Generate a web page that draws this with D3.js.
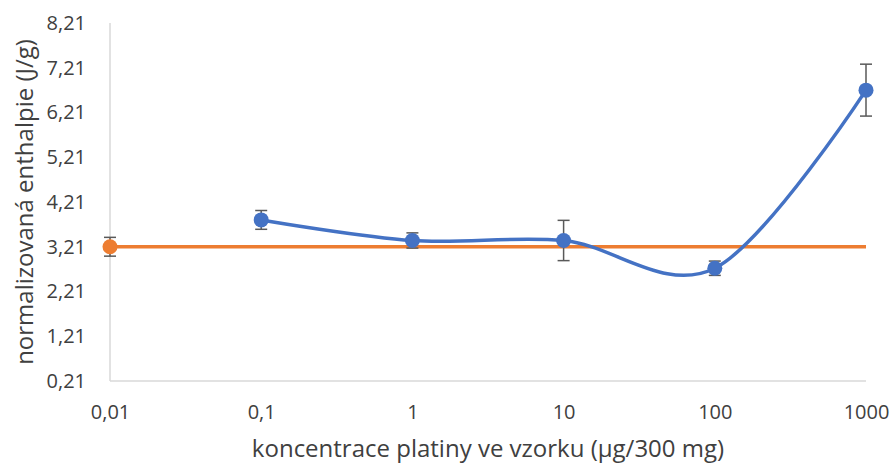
<!DOCTYPE html>
<html>
<head>
<meta charset="utf-8">
<script src="https://cdn.jsdelivr.net/npm/d3@7"></script>
<style>
  html, body { margin: 0; padding: 0; background: #fff; }
  svg text { font-family: "Open Sans", "Noto Sans", sans-serif; fill: #404040; }
  .tick text { font-size: 20px; }
</style>
</head>
<body>
<svg id="chart" width="895" height="463"></svg>
<script>
// Platinum concentration (µg / 300 mg sample), log scale
const concentrations = [0.1, 1, 10, 100, 1000];
// Normalised enthalpy (J/g) and standard deviation for Pt-containing samples
const enthalpy = [3.81, 3.35, 3.35, 2.73, 6.71];
const enthalpyErr = [0.21, 0.17, 0.45, 0.16, 0.58];

// Reference sample without platinum (plotted at the lowest concentration)
const referenceX = 0.01;
const referenceValue = 3.21;
const referenceErr = 0.21;

const xTicks = [0.01, 0.1, 1, 10, 100, 1000];
const yTicks = [0.21, 1.21, 2.21, 3.21, 4.21, 5.21, 6.21, 7.21, 8.21];

const xTitle = "koncentrace platiny ve vzorku (µg/300 mg)";
const yTitle = "normalizovaná enthalpie (J/g)";

const svg = d3.select("#chart");
const margin = { left: 110, right: 29, top: 23, bottom: 82 };
const W = 895, H = 463;

const x = d3.scaleLog().domain([0.01, 1000]).range([margin.left, W - margin.right]);
const y = d3.scaleLinear().domain([0.21, 8.21]).range([H - margin.bottom, margin.top]);

const fmtX = d => String(d).replace(".", ",");
const fmtY = d => d3.format(".2f")(d).replace(".", ",");

// axes (ticks only as labels, no gridlines)
const xAxis = svg.append("g")
  .attr("transform", `translate(0,${y(0.21)})`)
  .call(d3.axisBottom(x).tickValues(xTicks).tickFormat(fmtX).tickSize(0).tickPadding(24));
xAxis.select(".domain").remove();
xAxis.attr("font-size", null).attr("font-family", null);

const yAxis = svg.append("g")
  .attr("transform", `translate(${x(0.01)},0)`)
  .call(d3.axisLeft(y).tickValues(yTicks).tickFormat(fmtY).tickSize(0).tickPadding(24));
yAxis.select(".domain").remove();
yAxis.attr("font-size", null).attr("font-family", null);

// axis lines
svg.append("line")
  .attr("x1", x(0.01)).attr("x2", x(1000))
  .attr("y1", y(0.21)).attr("y2", y(0.21))
  .attr("stroke", "#d9d9d9").attr("stroke-width", 1.5);
svg.append("line")
  .attr("x1", x(0.01)).attr("x2", x(0.01))
  .attr("y1", y(0.21)).attr("y2", y(8.21))
  .attr("stroke", "#d9d9d9").attr("stroke-width", 1.5);

// axis titles
svg.append("text")
  .attr("x", (x(0.01) + x(1000)) / 2).attr("y", 457)
  .attr("text-anchor", "middle").style("font-size", "24px")
  .text(xTitle);
svg.append("text")
  .attr("transform", `translate(33,${(y(0.21) + y(8.21)) / 2}) rotate(-90)`)
  .attr("text-anchor", "middle").style("font-size", "24px")
  .text(yTitle);

const orange = "#ed7d31", blue = "#4472c4", errColor = "#595959";

// reference line across full concentration range
svg.append("line")
  .attr("x1", x(referenceX)).attr("x2", x(1000))
  .attr("y1", y(referenceValue)).attr("y2", y(referenceValue))
  .attr("stroke", orange).attr("stroke-width", 3.5);

// smoothed Pt series
const pts = concentrations.map((c, i) => ({ c, v: enthalpy[i], e: enthalpyErr[i] }));
const line = d3.line().x(d => x(d.c)).y(d => y(d.v)).curve(d3.curveCatmullRom.alpha(0));
svg.append("path").datum(pts)
  .attr("d", line).attr("fill", "none")
  .attr("stroke", blue).attr("stroke-width", 3.5);

// error bars
function errorBar(cx, v, e) {
  const g = svg.append("g").attr("stroke", errColor).attr("stroke-width", 1.5);
  g.append("line").attr("x1", x(cx)).attr("x2", x(cx)).attr("y1", y(v - e)).attr("y2", y(v + e));
  [v - e, v + e].forEach(t => g.append("line")
    .attr("x1", x(cx) - 6).attr("x2", x(cx) + 6).attr("y1", y(t)).attr("y2", y(t)));
}
errorBar(referenceX, referenceValue, referenceErr);
pts.forEach(d => errorBar(d.c, d.v, d.e));

// markers
svg.append("circle").attr("cx", x(referenceX)).attr("cy", y(referenceValue)).attr("r", 7.5).attr("fill", orange);
svg.selectAll(".pt").data(pts).enter().append("circle")
  .attr("cx", d => x(d.c)).attr("cy", d => y(d.v)).attr("r", 7.5).attr("fill", blue);
</script>
</body>
</html>
